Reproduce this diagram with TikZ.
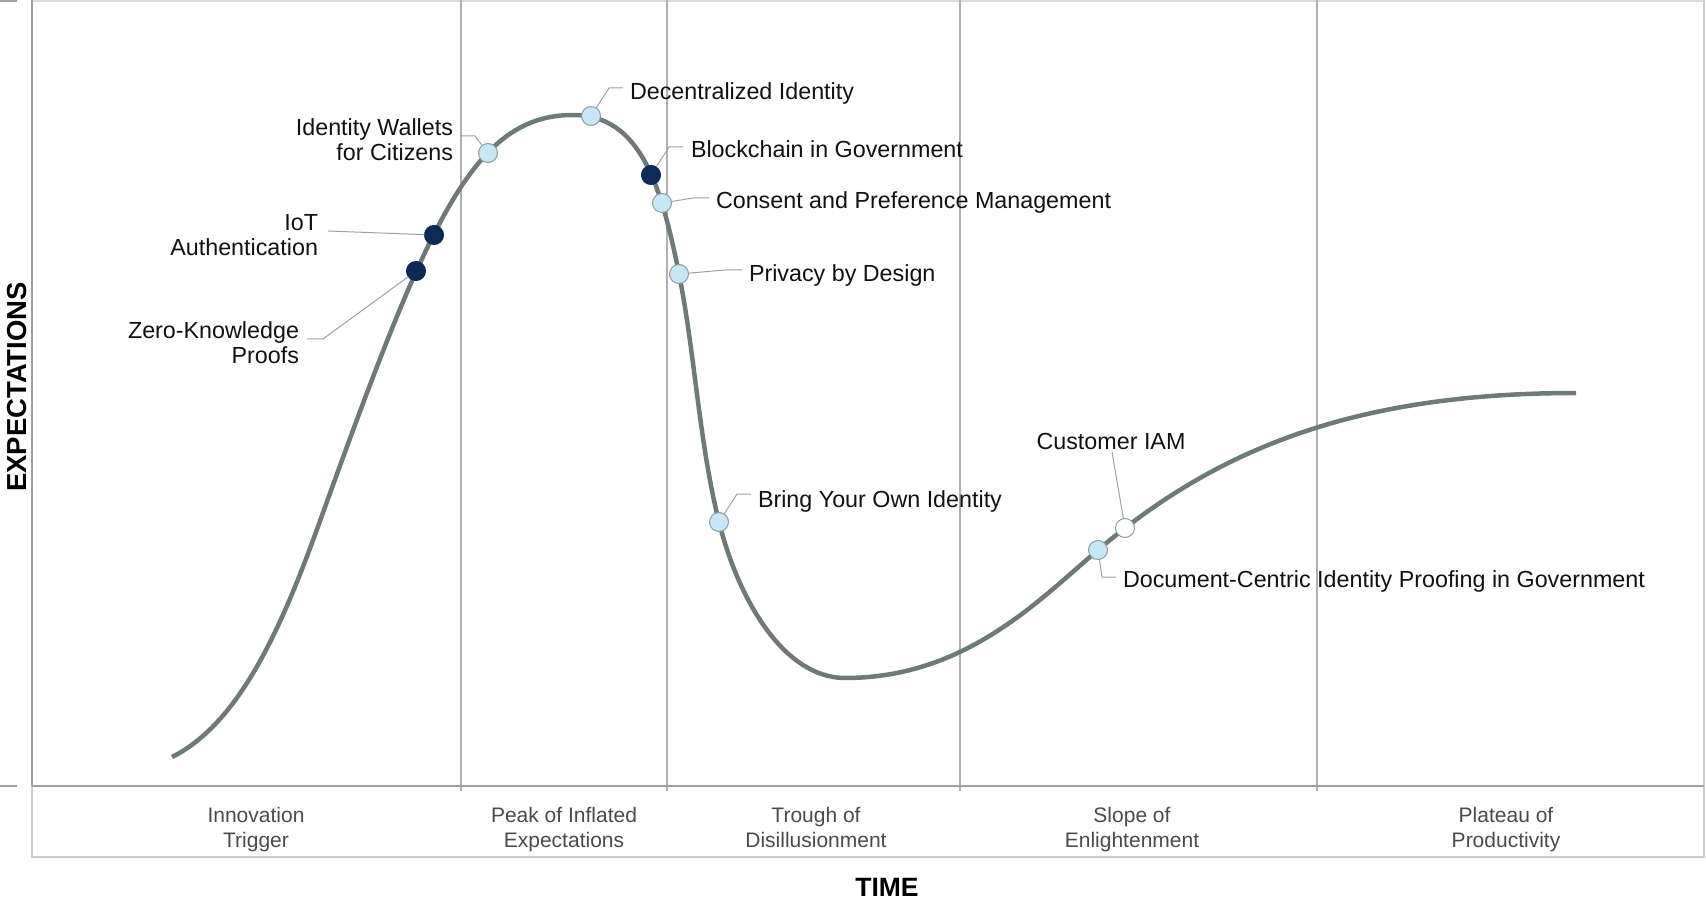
\documentclass[tikz,border=0pt]{standalone}
\usepackage{fontspec}
\setmainfont{Liberation Sans}
\definecolor{curvec}{HTML}{6E7A7A}
\definecolor{gridc}{HTML}{B0B0B0}
\definecolor{framec}{HTML}{A0A0A0}
\definecolor{stripc}{HTML}{CCCCCC}
\definecolor{leadc}{HTML}{A0A0A0}
\definecolor{lightdot}{HTML}{C6E7F5}
\definecolor{dotedge}{HTML}{8C9BA0}
\definecolor{darkdot}{HTML}{0B2A55}
\definecolor{labc}{HTML}{111111}
\definecolor{catc}{HTML}{4A4A4A}
\tikzset{
  every node/.style={inner sep=0pt, outer sep=0pt},
  lab/.style={text=labc, font=\fontsize{23.3}{25}\selectfont},
  cat/.style={text=catc, font=\fontsize{21}{25}\selectfont, align=center},
  axt/.style={text=black, font=\fontsize{26.5}{30}\selectfont\bfseries},
  dotl/.style={circle, minimum size=19pt, fill=lightdot, draw=dotedge, line width=1pt},
  dotd/.style={circle, minimum size=19pt, fill=darkdot, draw=darkdot, line width=1pt},
  dotw/.style={circle, minimum size=19pt, fill=white, draw=dotedge, line width=1pt},
  leader/.style={draw=leadc, line width=1pt},
  grid/.style={draw=gridc, line width=1.2pt},
}
\begin{document}
\begin{tikzpicture}[x=1pt,y=-1pt]
\useasboundingbox (0,0) rectangle (1706,901);
% frame
\draw[draw=stripc!70, line width=2pt] (32,1) -- (1704,1);
\foreach \xx in {461,667,960,1317} \draw[grid] (\xx,0) -- (\xx,791);
\draw[draw=stripc, line width=2pt] (32,786) -- (32,857) -- (1704,857) -- (1704,0);
\draw[draw=framec, line width=2.2pt] (32,0) -- (32,786);
\draw[draw=framec, line width=2.5pt] (32,786) -- (1704,786);
\draw[draw=framec, line width=2pt] (0,1) -- (17,1);
\draw[draw=framec, line width=2pt] (0,786) -- (17,786);
% curve
\draw[curvec, line width=4.5pt]
  (172,757) .. controls (242,722) and (284,621) .. (320,521)
  .. controls (428,221) and (473,115) .. (573,115)
  .. controls (640,115) and (661,184) .. (679,274)
  .. controls (695,354) and (699,442) .. (719,522)
  .. controls (739,602) and (785,678) .. (845,678)
  .. controls (965,678) and (1038,601) .. (1098,550)
  .. controls (1218,448) and (1356,393) .. (1576,393);
% dots
\node[dotd] (zk) at (416,271) {};
\node[dotd] (iot) at (434,235) {};
\node[dotl] (iw) at (488,153) {};
\node[dotl] (di) at (591,116) {};
\node[dotd] (bc) at (651,175) {};
\node[dotl] (cp) at (662,203) {};
\node[dotl] (pd) at (679,274) {};
\node[dotl] (by) at (719,522) {};
\node[dotl] (dc) at (1098,550) {};
\node[dotw] (ci) at (1125,528) {};
% leader elbows and ends
\coordinate (diA) at (609,88);  \coordinate (diB) at (623,88);
\coordinate (iwA) at (475,136); \coordinate (iwB) at (460,136);
\coordinate (iotB) at (328,231);
\coordinate (zkA) at (323,339); \coordinate (zkB) at (307,339);
\coordinate (bcA) at (669,147); \coordinate (bcB) at (683,147);
\coordinate (cpA) at (693,198); \coordinate (cpB) at (709,198);
\coordinate (pdA) at (725,270); \coordinate (pdB) at (742,270);
\coordinate (byA) at (737,494); \coordinate (byB) at (751,494);
\coordinate (ciB) at (1112,452);
\coordinate (dcA) at (1102,577); \coordinate (dcB) at (1116,577);
\draw[leader] (di) -- (diA) -- (diB);
\draw[leader] (iw) -- (iwA) -- (iwB);
\draw[leader] (iot) -- (iotB);
\draw[leader] (zk) -- (zkA) -- (zkB);
\draw[leader] (bc) -- (bcA) -- (bcB);
\draw[leader] (cp) -- (cpA) -- (cpB);
\draw[leader] (pd) -- (pdA) -- (pdB);
\draw[leader] (by) -- (byA) -- (byB);
\draw[leader] (ci) -- (ciB);
\draw[leader] (dc) -- (dcA) -- (dcB);
% labels
\node[lab, anchor=base west] (tdi) at (630,100) {Decentralized Identity};
\node[lab, anchor=base east] (tiw1) at (453,136) {Identity Wallets};
\node[lab, anchor=base east] (tiw2) at (453,161) {for Citizens};
\node[lab, anchor=base east] (tiot1) at (318,231) {IoT};
\node[lab, anchor=base east] (tiot2) at (318,256) {Authentication};
\node[lab, anchor=base east] (tzk1) at (299,338) {Zero-Knowledge};
\node[lab, anchor=base east] (tzk2) at (299,363) {Proofs};
\node[lab, anchor=base west] (tbc) at (691,158) {Blockchain in Government};
\node[lab, anchor=base west] (tcp) at (716,209) {Consent and Preference Management};
\node[lab, anchor=base west] (tpd) at (749,282) {Privacy by Design};
\node[lab, anchor=base west] (tby) at (758,507) {Bring Your Own Identity};
\node[lab, anchor=base] (tci) at (1111,449) {Customer IAM};
\node[lab, anchor=base west] (tdc) at (1123,587) {Document-Centric Identity Proofing in Government};
% categories
\node[cat, anchor=base] (c1a) at (256,822) {Innovation};
\node[cat, anchor=base] (c1b) at (256,847) {Trigger};
\node[cat, anchor=base] (c2a) at (564,822) {Peak of Inflated};
\node[cat, anchor=base] (c2b) at (564,847) {Expectations};
\node[cat, anchor=base] (c3a) at (816,822) {Trough of};
\node[cat, anchor=base] (c3b) at (816,847) {Disillusionment};
\node[cat, anchor=base] (c4a) at (1132,822) {Slope of};
\node[cat, anchor=base] (c4b) at (1132,847) {Enlightenment};
\node[cat, anchor=base] (c5a) at (1506,822) {Plateau of};
\node[cat, anchor=base] (c5b) at (1506,847) {Productivity};
% axis titles
\node[axt] (time) at (887,887) {TIME};
\node[axt, font=\fontsize{27.5}{30}\selectfont\bfseries, rotate=90] (expc) at (17,387) {EXPECTATIONS};
\end{tikzpicture}
\end{document}
